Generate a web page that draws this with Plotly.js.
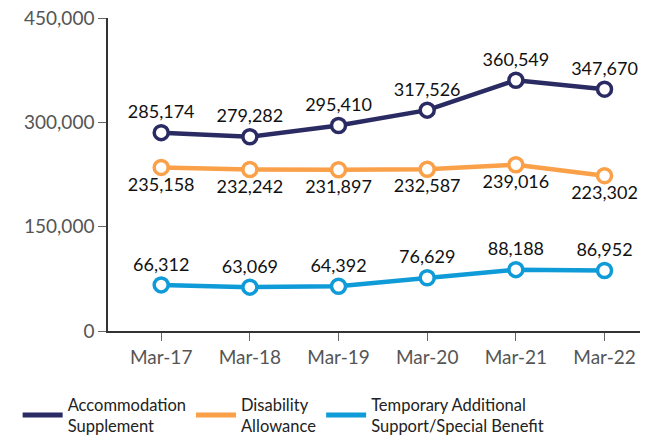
<!DOCTYPE html>
<html>
<head>
<meta charset="utf-8">
<script src="https://cdn.plot.ly/plotly-3.0.1.min.js"></script>
<style>
  html, body { margin: 0; padding: 0; background: #fff; }
  #plot { width: 654px; height: 443px; }
</style>
</head>
<body>
<div id="plot"></div>
<script>
const years = ['Mar-17', 'Mar-18', 'Mar-19', 'Mar-20', 'Mar-21', 'Mar-22'];
const accommodation = [285174, 279282, 295410, 317526, 360549, 347670];
const disability = [235158, 232242, 231897, 232587, 239016, 223302];
const temporary = [66312, 63069, 64392, 76629, 88188, 86952];
const yTicks = [0, 150000, 300000, 450000];

const names = ['Accommodation<br>Supplement', 'Disability<br>Allowance', 'Temporary Additional<br>Support/Special Benefit'];
const colors = ['#2b2b63', '#f9a048', '#0f9bd7'];

const fmt = v => v.toLocaleString('en-US');

function series(i, y, pos) {
  return {
    x: years,
    y: y,
    name: names[i],
    type: 'scatter',
    mode: 'lines+markers+text',
    showlegend: false,
    text: y.map(fmt),
    textposition: pos,
    textfont: { family: 'Lato, sans-serif', size: 18, color: '#111' },
    line: { color: colors[i], width: 4.5 },
    marker: { size: 14, color: '#fff', line: { color: colors[i], width: 3.5 } },
    cliponaxis: false
  };
}

// line-only entries for the legend
function legendEntry(i) {
  return {
    x: [null],
    y: [null],
    name: names[i],
    type: 'scatter',
    mode: 'lines',
    line: { color: colors[i], width: 5 }
  };
}

const data = [
  series(0, accommodation, 'top center'),
  series(1, disability, 'bottom center'),
  series(2, temporary, 'top center'),
  legendEntry(0), legendEntry(1), legendEntry(2)
];

const layout = {
  width: 654,
  height: 443,
  margin: { l: 108, r: 14, t: 18, b: 112 },
  paper_bgcolor: '#fff',
  plot_bgcolor: '#fff',
  font: { family: 'Lato, sans-serif', color: '#555' },
  showlegend: true,
  legend: {
    orientation: 'h',
    xref: 'container',
    yref: 'container',
    x: 0.027,
    xanchor: 'left',
    y: 0.0,
    yanchor: 'bottom',
    font: { size: 16.5, color: '#222' },
    itemwidth: 40,
    tracegroupgap: 0
  },
  xaxis: {
    type: 'category',
    range: [-0.6, 5.4],
    showgrid: false,
    showline: true,
    linecolor: '#333',
    linewidth: 1.5,
    ticks: 'outside',
    ticklen: 8,
    tickcolor: '#666',
    tickfont: { size: 19, color: '#555' },
    zeroline: false
  },
  yaxis: {
    range: [0, 450000],
    tickvals: yTicks,
    ticktext: yTicks.map(fmt),
    showgrid: false,
    showline: true,
    linecolor: '#333',
    linewidth: 1.5,
    ticks: 'outside',
    ticklen: 8,
    tickcolor: '#666',
    tickfont: { size: 19, color: '#555' },
    zeroline: false
  }
};

Plotly.newPlot('plot', data, layout, { displayModeBar: false });
</script>
</body>
</html>
